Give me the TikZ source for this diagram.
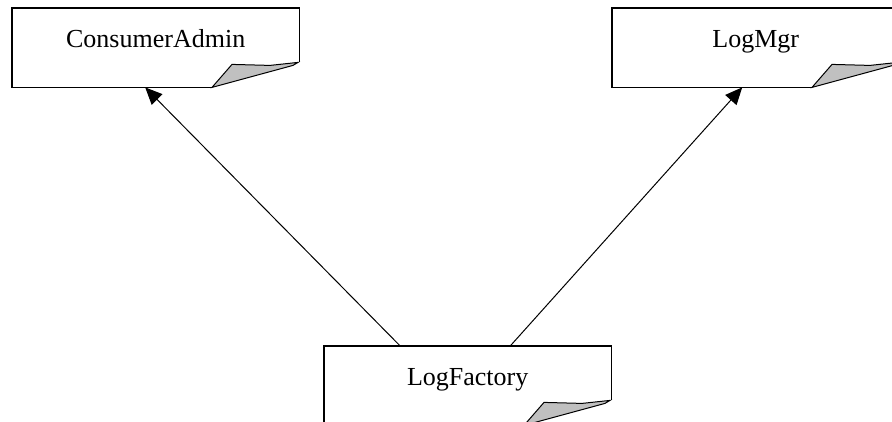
\documentclass[tikz,border=0pt]{standalone}
\usepackage{fontspec}
\setmainfont{Liberation Serif}
\usetikzlibrary{arrows.meta}
\begin{document}
\begin{tikzpicture}[x=1pt,y=-1pt,
note/.style={%
anchor=north west,
minimum width=287pt,
inner xsep=0pt,
inner ysep=0pt,
text height=39pt,
text depth=40pt,
font=\fontsize{26}{28}\selectfont
},
curl/.style={%
draw,
line width=1pt,
fill={rgb,255:red,192;green,192;blue,192}
},
dep/.style={%
line width=1pt,
-{Triangle[length=17pt,width=15pt]}
}
]
\useasboundingbox (0,0) rectangle (892,421);
%% Classes
\node[note]at(12,8)(admin){ConsumerAdmin};
\node[note]at(612,8)(mgr){LogMgr};
\node[note]at(324,346)(factory){LogFactory};
%% Outlines with turned corner
\foreach \n in {admin,mgr,factory}{
\draw[line width=1.5pt]([shift={(200,0)}]\n.south west)--(\n.south west)|-(\n.north east)--([shift={(0,54)}]\n.north east);
\draw[curl]([shift={(200,0)}]\n.south west)--([shift={(220,-23)}]\n.south west)--([shift={(258,-22)}]\n.south west)--([shift={(286,-25)}]\n.south west)--([shift={(281,-22)}]\n.south west)--cycle;
}
%% Dependencies
\draw[dep]([xshift=-67.5pt]factory.north)--([xshift=-10.5pt]admin.south);
\draw[dep]([xshift=42.5pt]factory.north)--([xshift=-13.5pt]mgr.south);
\end{tikzpicture}
\end{document}
